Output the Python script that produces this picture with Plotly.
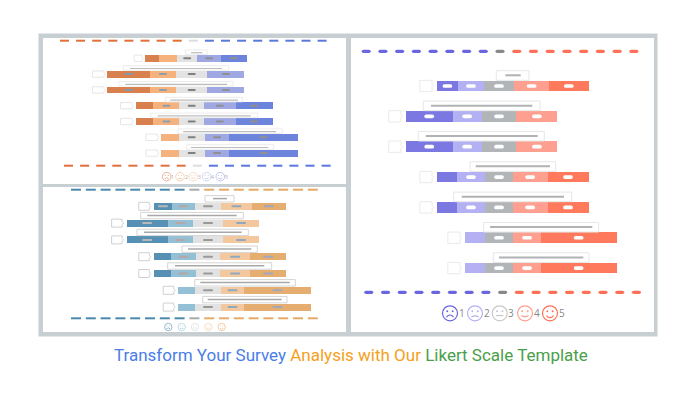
import plotly.graph_objects as go

W, H = 698, 400

# ---------- data (percent of answers per Likert level, one value per question) ----------
rows = [0, 1, 2, 3, 4, 5, 6]

tl_level1 = [10, 31, 31, 13, 13, None, None]
tl_level2 = [13, 19, 19, 19, 19, 13, 13]
tl_level3 = [15, 23, 23, 18, 18, 19, 19]
tl_level4 = [17, 27, 27, 23, 23, 18, 18]
tl_level5 = [19, None, None, 27, 27, 50, 50]
tl_shift = [-3.3, 0, 0, 0, 0, 0, 0]

bl_level1 = [14, 31, 31, 13, 13, None, None]
bl_level2 = [17, 19, 19, 19, 19, 13, 13]
bl_level3 = [20, 23, 23, 18, 18, 19, 19]
bl_level4 = [23, 27, 27, 23, 23, 18, 18]
bl_level5 = [26, None, None, 27, 27, 50, 50]
bl_shift = [0, 0, 0, 0, 0, 0, 0]

r_level1 = [14, 31, 31, 13, 13, None, None]
r_level2 = [17, 19, 19, 19, 19, 13, 13]
r_level3 = [20, 23, 23, 18, 18, 19, 19]
r_level4 = [23, 27, 27, 23, 23, 18, 18]
r_level5 = [26, None, None, 27, 27, 50, 50]
r_shift = [0, 0, 0, 0, 0, 0, 0]

legend_levels = ["1", "2", "3", "4", "5"]
title_parts = ["Transform Your Survey", "Analysis with Our", "Likert Scale Template"]

# ---------- layout / style ----------
panels = [
    dict(key="", levels=[tl_level1, tl_level2, tl_level3, tl_level4, tl_level5], shift=tl_shift,
         box=(43, 346, 38, 184), cx=191.7, scale=1.37, y0=58.3, dy=15.8, bar_h=6.8,
         colors=["#d9804f", "#f6b27c", "#e3e3e3", "#9fa8e2", "#6d84dd"],
         pill_colors=["#7f9ab0", "#8a9fb0", "#808080", "#909090", "#909090"], pill=(8, 2),
         tag=[9.3, 13, 13, 13, 13, 13, 13], tag_h=6.3, tag_gap=2, tag_col="#e6e6e6",
         qbox=[(185.3, 207.3), (123.3, 228.7), (118.7, 233.3), (165.3, 242.7), (150.7, 257.7), (178, 282.3), (186.3, 273.7)],
         qline=[(191, 202.3), (130, 222), (125.3, 227), (170.3, 238), (157.7, 250.7), (183.3, 276), (191, 268.3)],
         qy=(-8.4, -3.9), qly=-5.6, qlw=1.2, qbox_col="#ececec", qline_col="#bdbdbd",
         dash=dict(x0=60, x0b=64, ytop=40.7, ybot=165.7, period=16.1, length=9, thick=2, rounded=False,
                   colors=("#e0703a", "#dddddd", "#5a78dc")),
         face=dict(xs=[166.7, 180, 193.3, 206.7, 220.3], y=176.7, r=4.3, lw=0.8,
                   colors=["#e0a080", "#f6c7a0", "#f8d5b5", "#c5c9ee", "#aeb6ee"],
                   digit_dx=6, digit_size=5, digit_col="#aaaaaa")),
    dict(key="2", levels=[bl_level1, bl_level2, bl_level3, bl_level4, bl_level5], shift=bl_shift,
         box=(43, 346, 187, 332), cx=208, scale=1.323, y0=206.3, dy=16.8, bar_h=7,
         colors=["#5690b4", "#93c0d4", "#e2e2e2", "#f4c89e", "#e5ae70"],
         pill_colors=["#b8b8b8", "#b8a5a5", "#999999", "#8fa8c0", "#9fa8bc"], pill=(10, 2),
         tag=[12, 12, 12, 12, 12, 12, 12], tag_h=8, tag_gap=3, tag_col="#d0d0d0",
         qbox=[(205, 234), (140.7, 243.3), (137, 248.3), (182, 257.3), (167.7, 271.7), (194.7, 295.3), (202.7, 287)],
         qline=[(213, 227), (147.3, 236.7), (144, 241.7), (188, 251.3), (175, 264.3), (200.3, 289.7), (207.7, 281.7)],
         qy=(-10.7, -4.3), qly=-7.7, qlw=1.5, qbox_col="#d4d4d4", qline_col="#a8a8a8",
         dash=dict(x0=71, x0b=71, ytop=189.7, ybot=318.3, period=14.8, length=10, thick=2, rounded=False,
                   colors=("#4a88ad", "#aaaaaa", "#e5aa66")),
         face=dict(xs=[168.3, 181.7, 195, 208.3, 221.7], y=327, r=3.7, lw=0.8,
                   colors=["#7fa8c4", "#b0d2e0", "#e0e0e0", "#f5d5b5", "#f0c090"],
                   digit_dx=None, digit_size=5, digit_col="#aaaaaa")),
    dict(key="3", levels=[r_level1, r_level2, r_level3, r_level4, r_level5], shift=r_shift,
         box=(351, 654, 38, 332), cx=499, scale=1.517, y0=86, dy=30.35, bar_h=10.7,
         colors=["#7c78e2", "#b3b1f4", "#b1b5b7", "#ff9f8f", "#ff7a5c"],
         pill_colors=["#ffffff"] * 5, pill=(9.7, 3.7),
         tag=[13.7] * 7, tag_h=11.3, tag_gap=3.3, tag_col="#eaeaea",
         qbox=[(496.3, 529), (423.3, 540), (418.3, 544.3), (470, 555.7), (453.7, 571.7), (483.7, 598.7), (493.3, 589)],
         qline=[(505.3, 520.7), (431, 532.3), (425.7, 537.7), (475.7, 550), (461.7, 564), (490, 592.3), (499, 583.3)],
         qy=(-15.3, -5.7), qly=-10.7, qlw=2, qbox_col="#e6e6e6", qline_col="#b0b2b4",
         dash=dict(x0=361.7, x0b=364.3, ytop=51.3, ybot=292.3, period=16.73, length=9, thick=3.3, rounded=True,
                   colors=("#6a66dd", "#888888", "#ff7058")),
         face=dict(xs=[450, 475, 499.7, 525, 550], y=313.3, r=7.5, lw=1.2,
                   colors=["#6a66e0", "#b3b1f4", "#c8c8c8", "#ff9f8f", "#ff7058"],
                   digit_dx=11.7, digit_size=10, digit_col="#888888")),
]

FRAME = "#c8cfd3"
PILL_MIN = 14


def px(x):
    return x / W


def py(y):
    return 1 - y / H


def pill_path(w, h):
    r = h / 2
    return (f"M {-w/2+r} {-r} L {w/2-r} {-r} Q {w/2} {-r} {w/2} 0 Q {w/2} {r} {w/2-r} {r} "
            f"L {-w/2+r} {r} Q {-w/2} {r} {-w/2} 0 Q {-w/2} {-r} {-w/2+r} {-r} Z")


def paper_rect(x0, x1, y0, y1, fill, line=None, lw=0, layer="above"):
    return dict(type="rect", xref="paper", yref="paper", x0=px(x0), x1=px(x1), y0=py(y1), y1=py(y0),
                fillcolor=fill, line=dict(color=line or fill, width=lw), layer=layer)


def paper_pill(x0, x1, y, h, fill):
    r = h / 2
    t, b = py(y - r), py(y + r)
    rx = r / W
    ry = r / H
    a, c = px(x0), px(x1)
    path = (f"M {a+rx} {b} L {c-rx} {b} Q {c} {b} {c} {b+ry} Q {c} {t} {c-rx} {t} "
            f"L {a+rx} {t} Q {a} {t} {a} {b+ry} Q {a} {b} {a+rx} {b} Z")
    return dict(type="path", xref="paper", yref="paper", path=path, fillcolor=fill,
                line=dict(width=0), layer="above")


def face_shapes(cx, cy, r, col, mood, lw):
    out = [dict(type="circle", xref="paper", yref="paper", x0=px(cx - r), x1=px(cx + r),
                y0=py(cy + r), y1=py(cy - r), fillcolor="white", line=dict(color=col, width=lw), layer="above")]
    e = r * 0.13
    for sx in (-1, 1):
        ex, ey = cx + sx * r * 0.36, cy - r * 0.28
        out.append(dict(type="circle", xref="paper", yref="paper", x0=px(ex - e), x1=px(ex + e),
                        y0=py(ey + e), y1=py(ey - e), fillcolor=col, line=dict(width=0), layer="above"))
    mx0, mx1 = cx - r * 0.48, cx + r * 0.48
    my = cy + r * (0.3 if mood >= 0 else 0.5)
    ctrl = my + mood * r * 0.55
    path = f"M {px(mx0)} {py(my)} Q {px(cx)} {py(ctrl)} {px(mx1)} {py(my)}"
    out.append(dict(type="path", xref="paper", yref="paper", path=path,
                    line=dict(color=col, width=lw), layer="above"))
    return out


fig = go.Figure()
shapes = []
annotations = []
layout_axes = {}

# frame and white panels
shapes.append(paper_rect(38.5, 657.5, 33.5, 336.5, FRAME, layer="below"))
for p in panels:
    x0, x1, y0, y1 = p["box"]
    shapes.append(paper_rect(x0, x1, y0, y1, "white", layer="below"))

moods = [-1, -0.6, 0, 0.6, 1]

for p in panels:
    k = p["key"]
    bx0, bx1, by0, by1 = p["box"]
    sc, cx, dy, y0 = p["scale"], p["cx"], p["dy"], p["y0"]

    layout_axes["xaxis" + k] = dict(domain=[px(bx0), px(bx1)], range=[(bx0 - cx) / sc, (bx1 - cx) / sc],
                                    visible=False, fixedrange=True, anchor="y" + k)
    layout_axes["yaxis" + k] = dict(domain=[py(by1), py(by0)], range=[(by1 - y0) / dy, (by0 - y0) / dy],
                                    visible=False, fixedrange=True, anchor="x" + k)

    starts = []
    for i in rows:
        v = [(lv[i] or 0) for lv in p["levels"]]
        starts.append(p["shift"][i] - (v[0] + v[1] + v[2] / 2))

    run = list(starts)
    for li, lv in enumerate(p["levels"]):
        fig.add_trace(go.Bar(x=lv, y=rows, base=run, orientation="h", width=p["bar_h"] / dy,
                             marker=dict(color=p["colors"][li], line=dict(width=0)),
                             xaxis="x" + k, yaxis="y" + k, showlegend=False, name=f"Level {li+1}"))
        for i in rows:
            val = lv[i]
            if val is not None and val >= PILL_MIN:
                shapes.append(dict(type="path", xref="x" + k, yref="y" + k, xsizemode="pixel", ysizemode="pixel",
                                   xanchor=run[i] + val / 2, yanchor=i,
                                   path=pill_path(*p["pill"]), fillcolor=p["pill_colors"][li],
                                   line=dict(width=0), layer="above"))
        run = [r + (lv[i] or 0) for i, r in enumerate(run)]

    # question boxes and the grey line standing for the question text
    for i in rows:
        yc = y0 + i * dy
        a, b = p["qbox"][i]
        shapes.append(paper_rect(a, b, yc + p["qy"][0], yc + p["qy"][1], "white", p["qbox_col"], 1))
        a, b = p["qline"][i]
        shapes.append(paper_rect(a, b, yc + p["qly"] - p["qlw"] / 2, yc + p["qly"] + p["qlw"] / 2, p["qline_col"]))

        # pentagon tag left of each bar
        tw, th, gap = p["tag"][i], p["tag_h"], p["tag_gap"]
        path = (f"M {-gap-tw} {-th/2} L {-gap-1.5} {-th/2} L {-gap-1.5} {-1.5} L {-gap} 0 "
                f"L {-gap-1.5} 1.5 L {-gap-1.5} {th/2} L {-gap-tw} {th/2} Z")
        shapes.append(dict(type="path", xref="x" + k, yref="y" + k, xsizemode="pixel", ysizemode="pixel",
                           xanchor=starts[i], yanchor=i, path=path, fillcolor="white",
                           line=dict(color=p["tag_col"], width=1), layer="above"))

    # dashed separators
    d = p["dash"]
    for ystart, yy in ((d["x0"], d["ytop"]), (d["x0b"], d["ybot"])):
        for n in range(17):
            col = d["colors"][0] if n < 8 else d["colors"][1] if n == 8 else d["colors"][2]
            a = ystart + n * d["period"]
            if d["rounded"]:
                shapes.append(paper_pill(a, a + d["length"], yy, d["thick"], col))
            else:
                shapes.append(paper_rect(a, a + d["length"], yy - d["thick"] / 2, yy + d["thick"] / 2, col))

    # legend faces
    f = p["face"]
    for n, fx in enumerate(f["xs"]):
        shapes.extend(face_shapes(fx, f["y"], f["r"], f["colors"][n], moods[n], f["lw"]))
        if f["digit_dx"] is not None:
            annotations.append(dict(text=legend_levels[n], xref="paper", yref="paper", showarrow=False,
                                    x=px(fx + f["digit_dx"]), y=py(f["y"]), xanchor="center", yanchor="middle",
                                    font=dict(family="Open Sans", size=f["digit_size"], color=f["digit_col"])))

title_colors = ["#4a7de8", "#f5a020", "#4aa04a"]
title_html = " ".join(f'<span style="color:{c}">{t}</span>' for c, t in zip(title_colors, title_parts))
annotations.append(dict(text=title_html, xref="paper", yref="paper", showarrow=False,
                        x=px(350.5), y=py(355), xanchor="center", yanchor="middle",
                        font=dict(family="Roboto", size=17)))

fig.update_layout(width=W, height=H, margin=dict(l=0, r=0, t=0, b=0), paper_bgcolor="white",
                  plot_bgcolor="rgba(0,0,0,0)", barmode="overlay", bargap=0, showlegend=False,
                  shapes=shapes, annotations=annotations, **layout_axes)

fig.write_html("out.html", config=dict(displayModeBar=False),
               post_script="document.body.style.margin='0';document.documentElement.style.overflow='hidden';")
